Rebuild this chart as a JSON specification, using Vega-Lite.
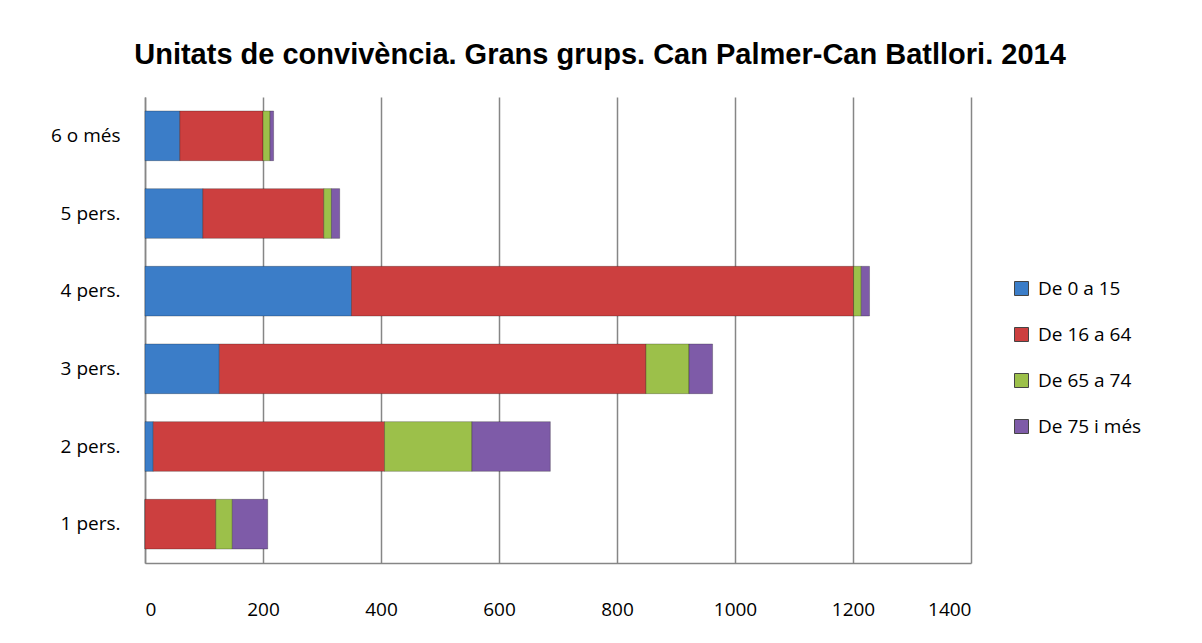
{
  "$schema": "https://vega.github.io/schema/vega-lite/v6.json",
  "width": 826,
  "height": 466,
  "padding": {"left": 45, "top": 41, "right": 5, "bottom": 5},
  "background": "white",
  "title": {
    "text": "Unitats de convivència. Grans grups. Can Palmer-Can Batllori. 2014",
    "font": "Liberation Sans",
    "fontSize": 29,
    "fontWeight": "bold",
    "color": "#000000",
    "anchor": "middle",
    "dx": 42,
    "offset": 27
  },
  "data": {
    "values": [
      {"grup": "6 o més", "edat": "De 0 a 15", "ordre": 1, "valor": 59},
      {"grup": "6 o més", "edat": "De 16 a 64", "ordre": 2, "valor": 141},
      {"grup": "6 o més", "edat": "De 65 a 74", "ordre": 3, "valor": 12},
      {"grup": "6 o més", "edat": "De 75 i més", "ordre": 4, "valor": 6},
      {"grup": "5 pers.", "edat": "De 0 a 15", "ordre": 1, "valor": 98},
      {"grup": "5 pers.", "edat": "De 16 a 64", "ordre": 2, "valor": 205},
      {"grup": "5 pers.", "edat": "De 65 a 74", "ordre": 3, "valor": 13},
      {"grup": "5 pers.", "edat": "De 75 i més", "ordre": 4, "valor": 14},
      {"grup": "4 pers.", "edat": "De 0 a 15", "ordre": 1, "valor": 350},
      {"grup": "4 pers.", "edat": "De 16 a 64", "ordre": 2, "valor": 851},
      {"grup": "4 pers.", "edat": "De 65 a 74", "ordre": 3, "valor": 13},
      {"grup": "4 pers.", "edat": "De 75 i més", "ordre": 4, "valor": 14},
      {"grup": "3 pers.", "edat": "De 0 a 15", "ordre": 1, "valor": 126},
      {"grup": "3 pers.", "edat": "De 16 a 64", "ordre": 2, "valor": 723},
      {"grup": "3 pers.", "edat": "De 65 a 74", "ordre": 3, "valor": 73},
      {"grup": "3 pers.", "edat": "De 75 i més", "ordre": 4, "valor": 40},
      {"grup": "2 pers.", "edat": "De 0 a 15", "ordre": 1, "valor": 14},
      {"grup": "2 pers.", "edat": "De 16 a 64", "ordre": 2, "valor": 392},
      {"grup": "2 pers.", "edat": "De 65 a 74", "ordre": 3, "valor": 148},
      {"grup": "2 pers.", "edat": "De 75 i més", "ordre": 4, "valor": 133},
      {"grup": "1 pers.", "edat": "De 0 a 15", "ordre": 1, "valor": 0},
      {"grup": "1 pers.", "edat": "De 16 a 64", "ordre": 2, "valor": 120},
      {"grup": "1 pers.", "edat": "De 65 a 74", "ordre": 3, "valor": 28},
      {"grup": "1 pers.", "edat": "De 75 i més", "ordre": 4, "valor": 60}
    ]
  },
  "mark": {"type": "bar", "stroke": "#000000", "strokeOpacity": 0.25, "strokeWidth": 1},
  "encoding": {
    "y": {
      "field": "grup",
      "type": "nominal",
      "sort": ["6 o més", "5 pers.", "4 pers.", "3 pers.", "2 pers.", "1 pers."],
      "scale": {"paddingInner": 0.36, "paddingOuter": 0.18},
      "axis": {
        "title": null,
        "ticks": false,
        "labelPadding": 25,
        "labelFont": "Open Sans",
        "labelFontSize": 19,
        "labelColor": "#000000",
        "domainColor": "#868686",
        "domainWidth": 1.5,
        "minExtent": 100,
        "maxExtent": 100
      }
    },
    "x": {
      "field": "valor",
      "type": "quantitative",
      "stack": "zero",
      "scale": {"domain": [0, 1400], "nice": false},
      "axis": {
        "title": null,
        "values": [0, 200, 400, 600, 800, 1000, 1200, 1400],
        "format": "d",
        "ticks": false,
        "labelPadding": 37,
        "labelFont": "Open Sans",
        "labelFontSize": 19,
        "labelColor": "#000000",
        "domainColor": "#868686",
        "domainWidth": 1.5,
        "grid": true,
        "gridColor": "#868686",
        "gridWidth": 1.5
      }
    },
    "color": {
      "field": "edat",
      "type": "nominal",
      "scale": {
        "domain": ["De 0 a 15", "De 16 a 64", "De 65 a 74", "De 75 i més"],
        "range": ["#3B7DC8", "#CC3F3F", "#9CC04A", "#7E5BA8"]
      },
      "legend": {
        "title": null,
        "orient": "none",
        "legendX": 867,
        "legendY": 182,
        "symbolType": "square",
        "symbolSize": 196,
        "symbolStrokeWidth": 1,
        "symbolStrokeColor": "#444444",
        "symbolOpacity": 1,
        "labelFont": "Open Sans",
        "labelFontSize": 19,
        "labelColor": "#000000",
        "labelOffset": 7,
        "rowPadding": 26
      }
    },
    "order": {"field": "ordre", "type": "quantitative"}
  },
  "config": {
    "view": {"stroke": null}
  }
}
